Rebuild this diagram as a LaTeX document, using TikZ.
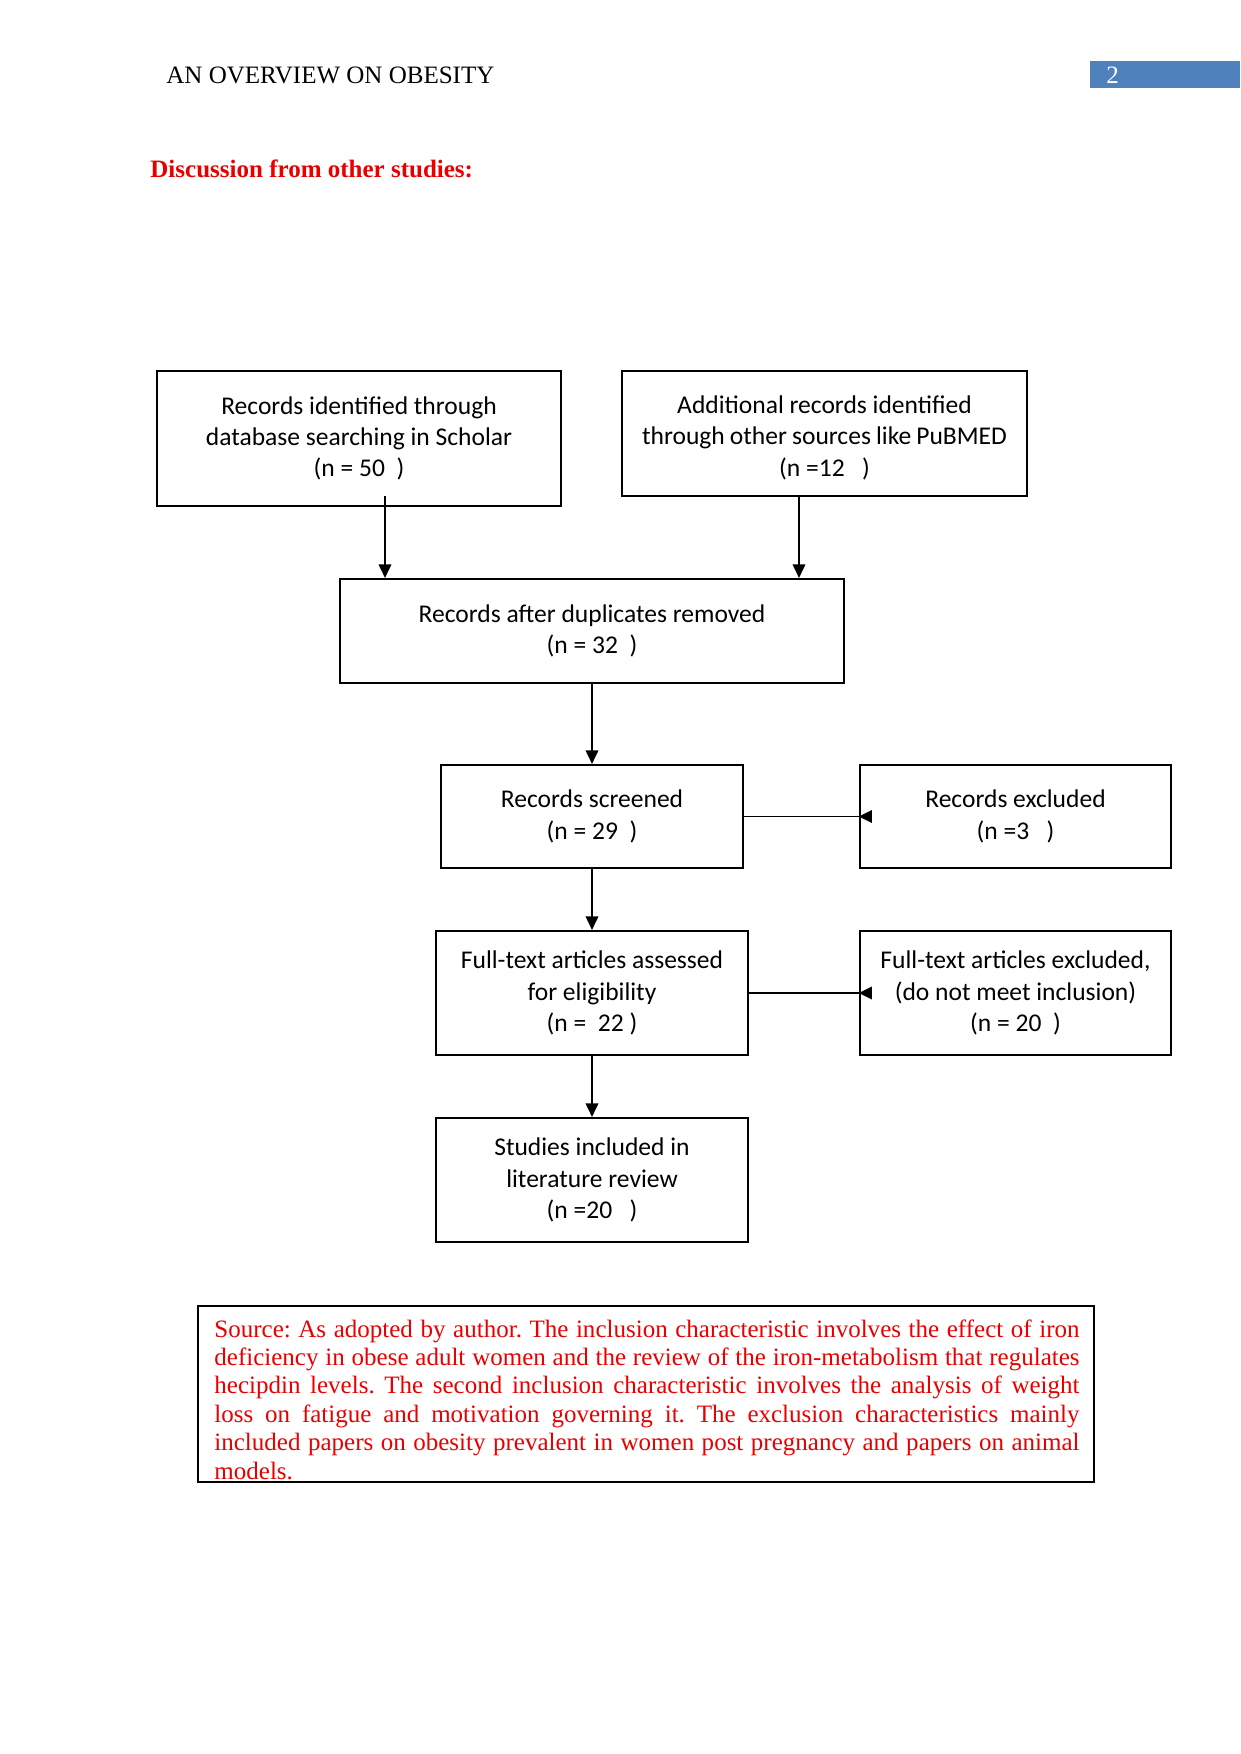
\documentclass[tikz,border=0pt]{standalone}
\usepackage{fontspec}
\setmainfont{Liberation Serif}
\newfontfamily\boxfont{Carlito}
\usetikzlibrary{arrows.meta}
\definecolor{srcred}{RGB}{232,0,0}
\definecolor{pgblue}{RGB}{79,129,189}
\newcommand\upx{0.4797pt}
\newlength\srcw
\setlength\srcw{415pt}
\frenchspacing
\begin{document}
\begin{tikzpicture}[x=0.4797pt,y=-0.4797pt,
  flowbox/.style={draw, line width=1pt, align=center, inner sep=0pt,
    font=\boxfont\fontsize{12.25}{15}\selectfont},
  arr/.style={line width=0.9pt, -{Triangle[width=6pt,length=6.5pt]}},
  link/.style={line width=0.9pt},
  srcline/.style={anchor=base west, inner sep=0pt, text=srcred,
    font=\fontsize{12}{13.8}\selectfont},
  hdrtext/.style={anchor=base west, inner sep=0pt, font=\fontsize{12}{14}\selectfont}]
\useasboundingbox[fill=white] (0,0) rectangle (1241,1754);

% header
\node[hdrtext] (hdr) at (166,84) {AN OVERVIEW ON OBESITY};
\fill[pgblue] (1090,61) rectangle (1240,88);
\node[hdrtext, text=white] (pgnum) at (1106,84) {2};
\node[hdrtext, text=srcred, font=\bfseries\fontsize{12}{14}\selectfont] (disc) at (150,177) {Discussion from other studies:};

% boxes
\node[flowbox, minimum width={404*\upx}, minimum height={135*\upx}] (A) at (359,438.5)
  {Records identified through\\database searching in Scholar\\(n = 50~~)};
\node[flowbox, minimum width={405*\upx}, minimum height={125*\upx}] (B) at (824.5,433.5)
  {\raisebox{0pt}[\dimexpr\height+4pt\relax][\depth]{\parbox{175pt}{\centering Additional records identified\\through other sources like PuBMED\\(n =12~~~)}}};
\node[flowbox, minimum width={504*\upx}, minimum height={104*\upx}] (C) at (592,631)
  {Records after duplicates removed\\(n = 32~~)};
\node[flowbox, minimum width={302*\upx}, minimum height={103*\upx}] (D) at (592,816.5)
  {Records screened\\(n = 29~~)};
\node[flowbox, minimum width={311*\upx}, minimum height={103*\upx}] (E) at (1015.5,816.5)
  {Records excluded\\(n =3~~~)};
\node[flowbox, minimum width={312*\upx}, minimum height={124*\upx}] (F) at (592,993)
  {Full-text articles assessed\\for eligibility\\(n = ~22 )};
\node[flowbox, minimum width={311*\upx}, minimum height={124*\upx}] (G) at (1015.5,993)
  {Full-text articles excluded,\\(do not meet inclusion)\\(n = 20~~)};
\node[flowbox, minimum width={312*\upx}, minimum height={124*\upx}] (H) at (592,1180)
  {Studies included in\\literature review\\(n =20~~~)};

% connectors
\coordinate (a1) at (385,496);
\coordinate (b1) at (799,496);
\draw[arr] (a1) -- (a1 |- C.north);
\draw[arr] (b1 |- B.south) -- (b1 |- C.north);
\draw[arr] (C.south) -- (D.north);
\draw[arr] (D.south) -- (F.north);
\draw[arr] (F.south) -- (H.north);
\draw[link] (D.east) -- (E.west);
\fill (E.west) -- ++(13,-6.5) -- ++(0,13) -- cycle;
\draw[link] (F.east) -- (G.west);
\fill (G.west) -- ++(13,-6.5) -- ++(0,13) -- cycle;

% source box
\draw[line width=0.5pt] (198,1306) rectangle (1094,1482);
\node[srcline] (s1) at (214,1337) {\makebox[\srcw][s]{Source: As adopted by author. The inclusion characteristic involves the effect of iron}};
\node[srcline] (s2) at (214,1365.4) {\makebox[\srcw][s]{deficiency in obese adult women and the review of the iron-metabolism that regulates}};
\node[srcline] (s3) at (214,1393.8) {\makebox[\srcw][s]{hecipdin levels. The second inclusion characteristic involves the analysis of weight}};
\node[srcline] (s4) at (214,1422.2) {\makebox[\srcw][s]{loss on fatigue and motivation governing it. The exclusion characteristics mainly}};
\node[srcline] (s5) at (214,1450.6) {\makebox[\srcw][s]{included papers on obesity prevalent in women post pregnancy and papers on animal}};
\node[srcline] (s6) at (214,1479) {models.};
\end{tikzpicture}
\end{document}
